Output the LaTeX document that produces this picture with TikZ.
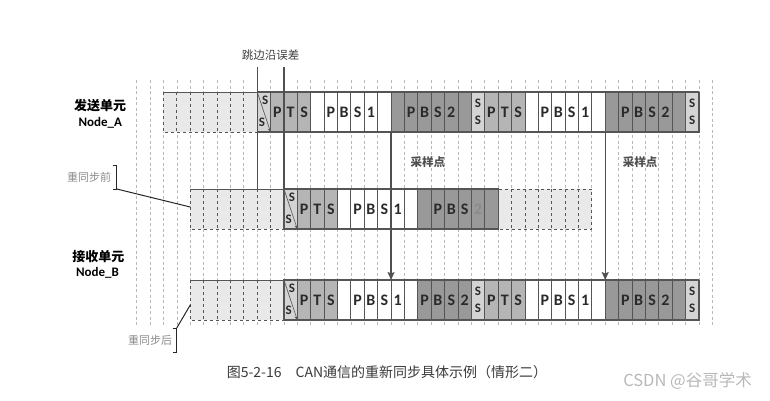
\documentclass[tikz,border=0pt]{standalone}
\usepackage{fontspec}
\setmainfont{Carlito}
\newfontfamily\cjk{Noto Sans CJK SC}
\usepackage{tikz}
\usetikzlibrary{arrows.meta,positioning}

\definecolor{gridgray}{HTML}{B8B8B8}
\definecolor{edgegray}{HTML}{555555}
\definecolor{idlefill}{HTML}{E9E9E9}
\definecolor{ssfill}{HTML}{D4D4D4}
\definecolor{ptsfill}{HTML}{B5B5B5}
\definecolor{pbsbfill}{HTML}{999999}
\definecolor{textgray}{HTML}{2A2A2A}
\definecolor{notegray}{HTML}{8A8A8A}
\definecolor{linegray}{HTML}{505050}
\definecolor{capgray}{HTML}{3A3A3A}
\definecolor{wmgray}{HTML}{B8B8B8}

\def\rowh{40}

% one run of bit cells: name, top y, first cell, fill, letters
\newcommand{\bitrun}[5]{%
  \foreach \t [count=\k from #3] in {#5} {
    \draw[cell, fill=#4] (\k,#2) rectangle ++(1,\rowh);
    \node[bit] (#1-\k) at (\k+0.5,#2+\rowh/2) {\t};
  }}
% idle (dashed) cells: top y, from, to
\newcommand{\idlerun}[3]{%
  \draw[idle] (#2,#1) rectangle (#3,#1+\rowh);
  \pgfmathtruncatemacro{\ia}{#2+1}\pgfmathtruncatemacro{\ib}{#3-1}
  \foreach \k in {\ia,...,\ib} \draw[cell, dashed] (\k,#1) -- ++(0,\rowh);}
% first sync segment, with the shifted edge
\newcommand{\edgesync}[3]{%
  \draw[cell, fill=ssfill] (#3,#2) rectangle ++(1,\rowh);
  \draw[-{Stealth[length=4pt,width=3.5pt]}, edgegray, line width=0.6pt] (#3,#2) -- (#3+1,#2+\rowh);
  \node[sbit] (#1-s1) at (#3+0.6,#2+8) {S};
  \node[sbit] (#1-s2) at (#3+0.36,#2+30) {S};}
% plain sync segment
\newcommand{\syncbit}[3]{%
  \draw[cell, fill=ssfill] (#3,#2) rectangle ++(1,\rowh);
  \node[sbit] (#1-#3u) at (#3+0.5,#2+11) {S};
  \node[sbit] (#1-#3d) at (#3+0.5,#2+28) {S};}

\begin{document}
\begin{tikzpicture}[
  x=13.386pt, y=-1pt,
  grid/.style={draw=gridgray, line width=0.7pt, dash pattern=on 3pt off 2.5pt},
  cell/.style={draw=edgegray, line width=0.8pt},
  idle/.style={draw=edgegray, line width=0.9pt, dashed, fill=idlefill},
  rowline/.style={draw=edgegray, line width=1.1pt},
  bit/.style={font=\bfseries\fontsize{16}{16}\selectfont, text=textgray, inner sep=0pt},
  sbit/.style={font=\bfseries\fontsize{13}{13}\selectfont, text=textgray, inner sep=0pt},
  tag/.style={font=\cjk\bfseries\fontsize{13}{14}\selectfont},
  tagen/.style={font=\bfseries\fontsize{13}{14}\selectfont},
  note/.style={font=\cjk\fontsize{11}{13}\selectfont, text=notegray},
  probe/.style={font=\cjk\bfseries\fontsize{11.5}{13}\selectfont, text=linegray},
  edgeline/.style={draw=linegray, line width=1.3pt},
  arrow/.style={-{Stealth[length=8pt,width=7pt,inset=1.5pt]}, draw=linegray, fill=linegray, line width=1.3pt},
  lead/.style={draw=black!85, line width=1pt},
]
\useasboundingbox (-10.213,0) rectangle (47.31,400);
\def\ya{92}
\def\ym{189}
\def\yb{280}

% time quanta grid
\foreach \i in {0,...,43}
  \draw[grid] (\i,80) -- (\i,326);

% sender, Node_A
\idlerun{\ya}{2}{9}
\draw[cell] (2,\ya) -- (9,\ya);
\edgesync{a}{\ya}{9}
\bitrun{a}{\ya}{10}{ptsfill}{P,T,S}
\bitrun{a}{\ya}{13}{white}{{},P,B,S,1,{}}
\bitrun{a}{\ya}{19}{pbsbfill}{{},P,B,S,2,{}}
\syncbit{a}{\ya}{25}
\bitrun{a}{\ya}{26}{ptsfill}{P,T,S}
\bitrun{a}{\ya}{29}{white}{{},P,B,S,1,{}}
\bitrun{a}{\ya}{35}{pbsbfill}{{},P,B,S,2,{}}
\syncbit{a}{\ya}{41}
\draw[rowline] (9,\ya) rectangle (42,\ya+\rowh);

% receiver before resync
\idlerun{\ym}{4}{11}
\draw[cell] (4,\ym) -- (11,\ym);
\edgesync{m}{\ym}{11}
\bitrun{m}{\ym}{12}{ptsfill}{P,T,S}
\bitrun{m}{\ym}{15}{white}{{},P,B,S,1,{}}
\bitrun{m}{\ym}{21}{pbsbfill}{{},P,B,S,{\textcolor{notegray}{2}},{}}
\idlerun{\ym}{27}{34}
\draw[rowline] (11,\ym) rectangle (27,\ym+\rowh);

% receiver, Node_B after resync
\idlerun{\yb}{4}{11}
\draw[cell] (4,\yb) -- (11,\yb);
\edgesync{b}{\yb}{11}
\bitrun{b}{\yb}{12}{ptsfill}{P,T,S}
\bitrun{b}{\yb}{15}{white}{{},P,B,S,1,{}}
\bitrun{b}{\yb}{21}{pbsbfill}{P,B,S,2}
\syncbit{b}{\yb}{25}
\bitrun{b}{\yb}{26}{ptsfill}{P,T,S}
\bitrun{b}{\yb}{29}{white}{{},P,B,S,1,{}}
\bitrun{b}{\yb}{35}{pbsbfill}{{},P,B,S,2,{}}
\syncbit{b}{\yb}{41}
\draw[rowline] (11,\yb) rectangle (42,\yb+\rowh);

% edge error
\node[note, text=black!75, font=\cjk\fontsize{11.5}{13}\selectfont] (jump) at (10,55) {跳边沿误差};
\coordinate (jL) at (9,67);
\coordinate (jLend) at (9,\ym);
\coordinate (jR) at (11,67);
\coordinate (jRend) at (11,\ym);
\draw[edgeline] (jL) -- (jLend);
\draw[edgeline] (jR) -- (jRend);

% sample points
\coordinate (s1) at (19,\ya+\rowh);
\coordinate (s1end) at (19,\yb);
\coordinate (s2) at (35,\ya+\rowh);
\coordinate (s2end) at (35,\yb);
\draw[arrow] (s1) -- (s1end);
\draw[arrow] (s2) -- (s2end);
\node[probe] (smp1) at (21.76,162) {采样点};
\node[probe] (smp2) at (37.6,162) {采样点};

% node names
\node[tag] (send) at (-2.74,106) {发送单元};
\node[tagen] (nodeA) at (-2.72,123) {Node\_A};
\node[tag] (recv) at (-2.86,257) {接收单元};
\node[tagen] (nodeB) at (-2.93,273) {Node\_B};

% before / after brackets
\node[note] (pre) at (-3.55,177) {重同步前};
\coordinate (preT) at (-1.49,165);
\coordinate (preB) at (-1.49,189);
\coordinate (midIn) at (4,207);
\draw[lead] ([xshift=-4pt]preT) -- (preT) -- (preB) -- ([xshift=-4pt]preB);
\draw[lead] (preB) -- (midIn);
\node[note] (post) at (1.0,340) {重同步后};
\coordinate (postT) at (2.99,328);
\coordinate (postB) at (2.99,352);
\coordinate (botIn) at (4,305);
\draw[lead] ([xshift=-4pt]postT) -- (postT) -- (postB) -- ([xshift=-4pt]postB);
\draw[lead] (postT) -- (botIn);

% caption
\node[font=\cjk\fontsize{14}{16}\selectfont, text=capgray] (cap) at (18.7,372) {图5-2-16\quad CAN通信的重新同步具体示例（情形二）};
\node[font=\cjk\fontsize{16.5}{18}\selectfont, text=wmgray] (wm) at (41.15,381) {CSDN @谷哥学术};
\end{tikzpicture}
\end{document}
